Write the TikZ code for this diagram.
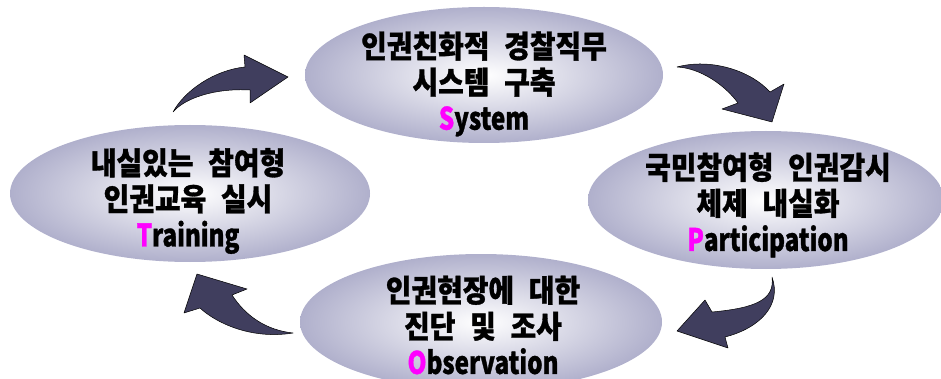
\documentclass[tikz,border=0pt]{standalone}
\usepackage{fontspec}
\newfontfamily\kr{Noto Sans CJK KR}[BoldFeatures={FakeStretch=0.9,FakeBold=1,WordSpace=2.3}]
\newfontfamily\krlat{Noto Sans CJK KR}[BoldFeatures={FakeStretch=0.78,FakeBold=1}]
\usetikzlibrary{shapes.geometric}
\definecolor{edgegray}{RGB}{176,176,204}
\definecolor{arrowfill}{RGB}{64,62,94}
\definecolor{keyletter}{RGB}{255,0,255}
\tikzset{
  bubble/.style={ellipse, inner sep=0pt, draw=none, shading=radial, inner color=white, outer color=edgegray},
  bubbletext/.style={align=center, inner sep=0pt, font=\kr\bfseries\fontsize{31}{36}\selectfont, text=black},
  blockarrow/.style={fill=arrowfill, draw=black, line width=0.5pt, line join=round}
}
\newcommand{\key}[1]{\textcolor{keyletter}{#1}}
\newcommand{\lat}[1]{{\krlat\bfseries #1}}
\begin{document}
\begin{tikzpicture}[x=1pt,y=-1pt]
\useasboundingbox (0,0) rectangle (941,379);
% ellipses
\node[bubble, minimum width=358pt, minimum height=136pt] (sys) at (484,75) {};
\node[bubble, minimum width=360pt, minimum height=137pt] (trn) at (190,193.5) {};
\node[bubble, minimum width=356pt, minimum height=138pt] (par) at (766,200) {};
\node[bubble, minimum width=362pt, minimum height=136pt] (obs) at (481,322) {};
% texts
\node[bubbletext] (systxt) at ([yshift=-9pt]sys.center) {인권친화적 경찰직무\\시스템 구축\\\lat{\key{S}ystem}};
\node[bubbletext] (trntxt) at ([xshift=-2pt,yshift=-7.5pt]trn.center) {내실있는 참여형\\인권교육 실시\\\lat{\key{T}raining}};
\node[bubbletext] (partxt) at ([xshift=2pt,yshift=-5pt]par.center) {국민참여형 인권감시\\체제 내실화\\\lat{\key{P}articipation}};
\node[bubbletext] (obstxt) at ([xshift=2pt,yshift=-3pt]obs.center) {인권현장에 대한\\진단 및 조사\\\lat{\key{O}bservation}};
% arrows
\draw[blockarrow] (173,112) .. controls (185,90) and (215,70) .. (245,67) -- (244,55) -- (288,77) -- (250,103) -- (250,90) .. controls (215,88) and (185,98) .. (173,112) -- cycle;
\draw[blockarrow] (677,67) .. controls (710,58) and (750,70) .. (770,92) -- (784,84) -- (772,122) -- (722,109) -- (738,103) .. controls (725,85) and (700,68) .. (677,67) -- cycle;
\draw[blockarrow] (772,277) .. controls (775,300) and (755,308) .. (712,312) -- (705,300) -- (677,331) -- (728,348) -- (725,337) .. controls (760,328) and (782,305) .. (772,277) -- cycle;
\draw[blockarrow] (293,333) .. controls (265,330) and (245,315) .. (232,295) -- (247,289) -- (197,274) -- (184,313) -- (200,308) .. controls (215,322) and (250,340) .. (293,333) -- cycle;
\end{tikzpicture}
\end{document}
